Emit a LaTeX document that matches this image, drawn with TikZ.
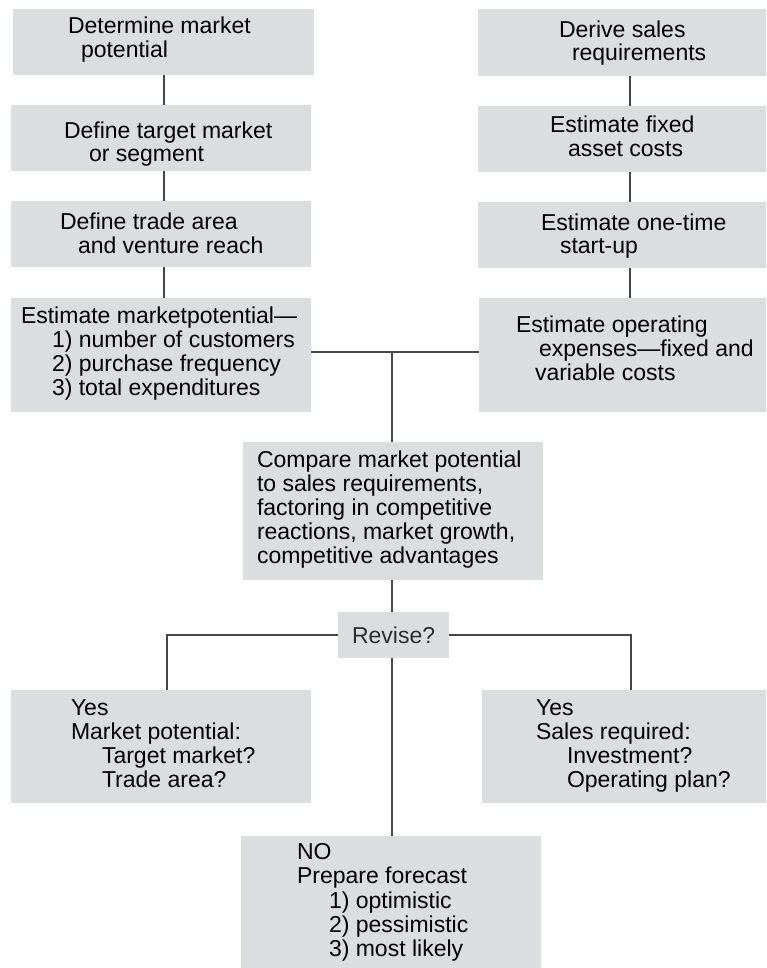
\documentclass[tikz,border=0pt]{standalone}
\usepackage{fontspec}
\setmainfont{Liberation Sans}
\definecolor{boxfill}{RGB}{220,221,223}
\definecolor{linkgray}{RGB}{70,70,70}
\definecolor{asktext}{RGB}{45,45,45}
% grey panel given by its left, top, right and bottom edges
\newcommand\flowbox[5]{%
  \node[box, anchor=north west, minimum width={#4-#2}, minimum height={#5-#3}] (#1) at (#2,#3) {};}
\begin{document}
\begin{tikzpicture}[x=1pt,y=-1pt,
  box/.style={fill=boxfill, draw=none, inner sep=0pt, outer sep=0pt},
  % text blocks are placed by the baseline of their last line
  label/.style={anchor=base west, inner sep=0pt, outer sep=0pt, align=left,
                font=\fontsize{23}{23.8}\selectfont},
  link/.style={draw=linkgray, line width=1.5pt}]
\useasboundingbox (0,0) rectangle (766,968);

% market side
\flowbox{b1}{13}{9}{314}{75}
\flowbox{b2}{11}{105}{311}{171}
\flowbox{b3}{11}{201}{311}{267}
\flowbox{b4}{11}{298}{311}{412}
% sales side
\flowbox{r1}{478}{9}{766}{76}
\flowbox{r2}{478}{106}{766}{172}
\flowbox{r3}{478}{202}{766}{268}
\flowbox{r4}{479}{298}{766}{412}
% comparison and decision
\flowbox{cmp}{243}{442}{543}{580}
\flowbox{rev}{338}{612}{449}{658}
\flowbox{yl}{11}{690}{311}{803}
\flowbox{yr}{482}{690}{766}{803}
\flowbox{no}{241}{836}{541}{968}

% texts
\node[label] (t1) at (68,57.5) {Determine market\\\hspace*{13pt}potential};
\node[label] (t2) at (64,162) {Define target market\\\hspace*{25pt}or segment};
\node[label] (t3) at (60,253) {Define trade area\\\hspace*{18pt}and venture reach};
\node[label] (t4) at (21,395) {Estimate marketpotential---\\\hspace*{31pt}1) number of customers\\\hspace*{31pt}2) purchase frequency\\\hspace*{31pt}3) total expenditures};
\node[label] (s1) at (559,61) {Derive sales\\\hspace*{13pt}requirements};
\node[label] (s2) at (550,156.5) {Estimate fixed\\\hspace*{18pt}asset costs};
\node[label] (s3) at (541,254) {Estimate one-time\\\hspace*{19pt}start-up};
\node[label] (s4) at (516,380) {Estimate operating\\\hspace*{23pt}expenses---fixed and\\\hspace*{19pt}variable costs};
\node[label] (tc) at (257,563) {Compare market potential\\to sales requirements,\\factoring in competitive\\reactions, market growth,\\competitive advantages};
\node[label, text=asktext] (tr) at (352,643) {Revise?};
\node[label] (tl) at (71,787) {Yes\\Market potential:\\\hspace*{31pt}Target market?\\\hspace*{31pt}Trade area?};
\node[label] (tyr) at (536,787) {Yes\\Sales required:\\\hspace*{31pt}Investment?\\\hspace*{31pt}Operating plan?};
\node[label, font=\fontsize{23}{24.2}\selectfont] (tn) at (297,956.5) {NO\\Prepare forecast\\\hspace*{32pt}1) optimistic\\\hspace*{32pt}2) pessimistic\\\hspace*{32pt}3) most likely};

% connector guides
\coordinate (lx) at (164,0);
\coordinate (rx) at (630,0);
\coordinate (mx) at (392,0);
\coordinate (hy) at (0,352);
\coordinate (join) at (392,352);
\coordinate (ylx) at (167,0);
\coordinate (yrx) at (631,0);

\draw[link] (b1.south -| lx) -- (b2.north -| lx);
\draw[link] (b2.south -| lx) -- (b3.north -| lx);
\draw[link] (b3.south -| lx) -- (b4.north -| lx);
\draw[link] (r1.south -| rx) -- (r2.north -| rx);
\draw[link] (r2.south -| rx) -- (r3.north -| rx);
\draw[link] (r3.south -| rx) -- (r4.north -| rx);
\draw[link] (b4.east |- hy) -- (r4.west |- hy);
\draw[link] (join) -- (cmp.north -| join);
\draw[link] (cmp.south -| mx) -- (rev.north -| mx);
\draw[link] (rev.west) -| (yl.north -| ylx);
\draw[link] (rev.east) -| (yr.north -| yrx);
\draw[link] (rev.south -| mx) -- (no.north -| mx);
\end{tikzpicture}
\end{document}
